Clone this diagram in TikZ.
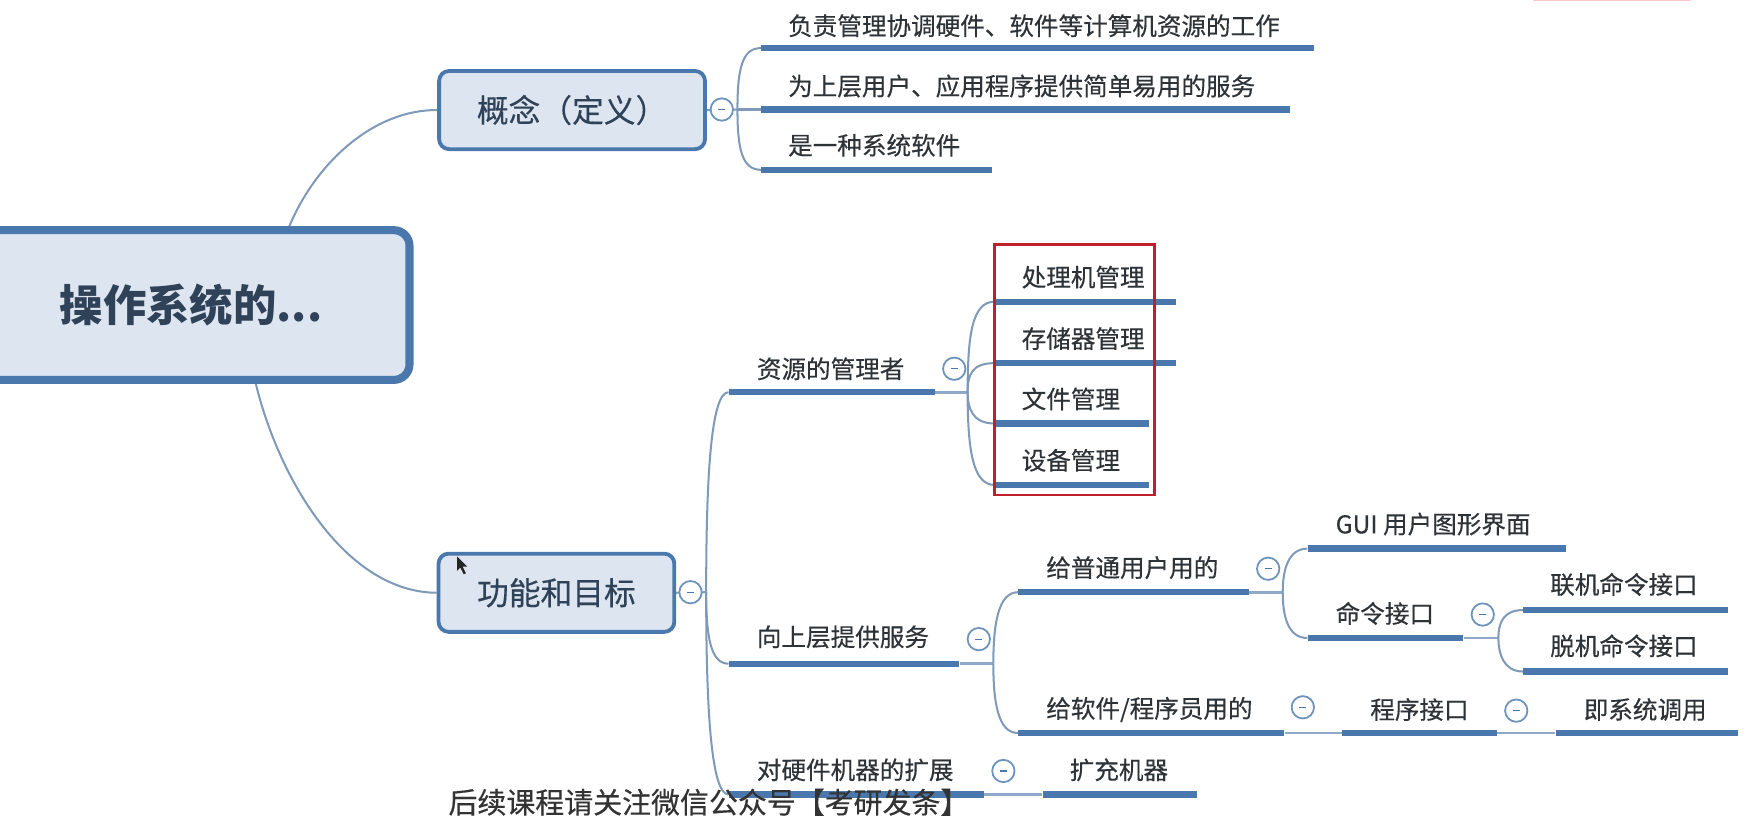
\documentclass[tikz,border=0pt]{standalone}
\usepackage{fontspec}
\setmainfont{Noto Sans CJK SC}
\newfontfamily\heavyfont[FakeBold=0.35]{Noto Sans CJK SC}
\usetikzlibrary{calc}
\definecolor{barblue}{HTML}{4A78AC}
\definecolor{boxfill}{HTML}{DCE5F0}
\definecolor{linkc}{HTML}{7F9AB8}
\definecolor{stubc}{HTML}{8FA9C8}
\definecolor{inkc}{HTML}{2E3338}
\definecolor{boxink}{HTML}{2F4258}
\definecolor{redbox}{HTML}{C0202E}
\definecolor{pinkbit}{HTML}{F8C8C8}
\tikzset{
  x=0.5pt,y=-0.5pt,
  barnode/.style={fill=barblue,draw=none,inner sep=0pt,minimum height=2.8pt,anchor=west},
  topictext/.style={text=inkc,font=\heavyfont\fontsize{11}{13}\selectfont,inner sep=0pt,anchor=west,yshift=0.5pt},
  link/.style={draw=linkc,line width=0.9pt},
  stub/.style={draw=stubc,line width=1.3pt},
  mainbox/.style={draw=barblue,fill=boxfill,rounded corners=7pt,line width=3.6pt,inner sep=0pt},
  subbox/.style={draw=barblue,fill=boxfill,rounded corners=4.5pt,line width=1.7pt,inner sep=0pt,
     text=boxink,font=\heavyfont\fontsize{14.2}{17}\selectfont},
  collapser/.style={circle,draw=barblue!80,fill=white,line width=0.8pt,minimum size=10pt,inner sep=0pt,
     path picture={\draw[barblue,line width=0.5pt]
     ([xshift=-1.5pt]path picture bounding box.center)--([xshift=1.5pt]path picture bounding box.center);}},
}
% \topic{name}{bar left}{bar right}{bar y}{text left}{text y}{text}
\newcommand{\topic}[7]{%
  \node[barnode,minimum width=\fpeval{(#3-#2)*0.5}pt] (#1) at (#2,#4) {};
  \node[topictext] (#1-t) at (#5,#6) {#7};
}
\begin{document}
\begin{tikzpicture}
\useasboundingbox (0,0) rectangle (1568,734);
\clip (0,0) rectangle (1568,734);
\fill[white] (0,0) rectangle (1568,734);
\fill[pinkbit] (1372,0) rectangle (1513,1.2);

% boxes
\node[mainbox,minimum width=197.5pt,minimum height=67pt] (root) at (169,273) {};
\node[text=boxink,font=\bfseries\fontsize{19.4}{23}\selectfont,inner sep=0pt] (roott) at (171,273) {操作系统的...};
\node[subbox,minimum width=119pt,minimum height=35pt] (concept) at (512,98.5) {概念（定义）\hspace{6pt}};
\node[subbox,minimum width=105.5pt,minimum height=35pt] (func) at (498,530.5) {功能和目标\hspace{5pt}};

% topics
\topic{c1}{681}{1176}{43}{705}{24}{负责管理协调硬件、软件等计算机资源的工作}
\topic{c2}{681}{1154}{98}{705}{78}{为上层用户、应用程序提供简单易用的服务}
\topic{c3}{681}{887}{152}{705}{131}{是一种系统软件}
\topic{f1}{652}{836}{351}{677}{331}{资源的管理者}
\topic{f2}{652}{858}{594}{677}{571}{向上层提供服务}
\topic{f3}{652}{880}{711}{677}{690}{对硬件机器的扩展}
\topic{f3a}{933}{1071}{711}{957}{690}{扩充机器}
\topic{r1}{890}{1052}{270}{914}{249}{处理机管理}
\topic{r2}{890}{1052}{325}{914}{304}{存储器管理}
\topic{r3}{890}{1028}{379}{914}{358}{文件管理}
\topic{r4}{890}{1028}{434}{914}{413}{设备管理}
\topic{u1}{911}{1117}{530}{936}{509}{给普通用户用的}
\topic{u2}{911}{1149}{656}{936}{636}{给软件/程序员用的}
\topic{g1}{1170}{1401}{491}{1195}{470}{GUI 用户图形界面}
\topic{g2}{1170}{1309}{571}{1195}{550}{命令接口}
\topic{k1}{1363}{1546}{546}{1387}{524}{联机命令接口}
\topic{k2}{1363}{1546}{601}{1387}{579}{脱机命令接口}
\topic{p1}{1201}{1339}{656}{1226}{636}{程序接口}
\topic{p2}{1392}{1555}{656}{1417}{636}{即系统调用}

% junctions
\coordinate (jc) at (660,98);
\coordinate (jf) at (632,530);
\coordinate (jr) at (866,351);
\coordinate (ju) at (889,594);
\coordinate (jg) at (1148,530);
\coordinate (jk) at (1341,571);

% connectors
\draw[link] ([xshift=45pt]root.north) .. controls (283,145) and (335,98) .. (concept.west);
\draw[link] ([xshift=30pt]root.south) .. controls (250,430) and (310,530) .. (func.west);
\draw[link] (concept.east) -- (jc);
\draw[link] (func.east) -- (jf);
\draw[link] (jc) .. controls (660,62) and (664,43) .. (c1.west);
\draw[link] (jc) -- (c2.west);
\draw[link] (jc) .. controls (660,133) and (664,152) .. (c3.west);
\draw[link] (jf) .. controls (632,430) and (636,351) .. (f1.west);
\draw[link] (jf) .. controls (632,570) and (636,594) .. (f2.west);
\draw[link] (jf) .. controls (632,630) and (636,711) .. (f3.west);
\draw[stub] (f1.east) -- (jr);
\draw[link] (jr) .. controls (866,300) and (870,270) .. (r1.west);
\draw[link] (jr) .. controls (866,335) and (870,325) .. (r2.west);
\draw[link] (jr) .. controls (866,365) and (870,379) .. (r3.west);
\draw[link] (jr) .. controls (866,400) and (870,434) .. (r4.west);
\draw[stub] (f2.east) -- (ju);
\draw[link] (ju) .. controls (889,560) and (893,530) .. (u1.west);
\draw[link] (ju) .. controls (889,628) and (893,656) .. (u2.west);
\draw[stub] (u1.east) -- (jg);
\draw[link] (jg) .. controls (1148,512) and (1152,491) .. (g1.west);
\draw[link] (jg) .. controls (1148,550) and (1152,571) .. (g2.west);
\draw[stub] (g2.east) -- (jk);
\draw[link] (jk) .. controls (1341,558) and (1345,546) .. (k1.west);
\draw[link] (jk) .. controls (1341,584) and (1345,601) .. (k2.west);
\draw[stub] (u2.east) -- (p1.west);
\draw[stub] (p1.east) -- (p2.west);
\draw[stub] (f3.east) -- (f3a.west);

% collapsers
\foreach \n/\x/\y in {cc/646/98,cf/618/530,cr/854/330,cu/876/572,cg/1135/509,ck/1327/550,cs/1166/633,cp/1357/636,ce/898/690}{
  \node[collapser] (\n) at (\x,\y) {};
}

% red frame
\node[draw=redbox,line width=1.3pt,minimum width=71.5pt,minimum height=112pt,inner sep=0pt] (frame) at (961.5,331) {};

% caption
\node[text=black!80,font=\heavyfont\fontsize{12.95}{15}\selectfont,inner sep=0pt,anchor=west] (caption) at (401,718) {后续课程请关注微信公众号【考研发条】};

% cursor
\fill[black!85] (409,498) -- (409,511) -- (412,508) -- (415,514) -- (417,513) -- (414,507) -- (418,507) -- cycle;
\end{tikzpicture}
\end{document}
